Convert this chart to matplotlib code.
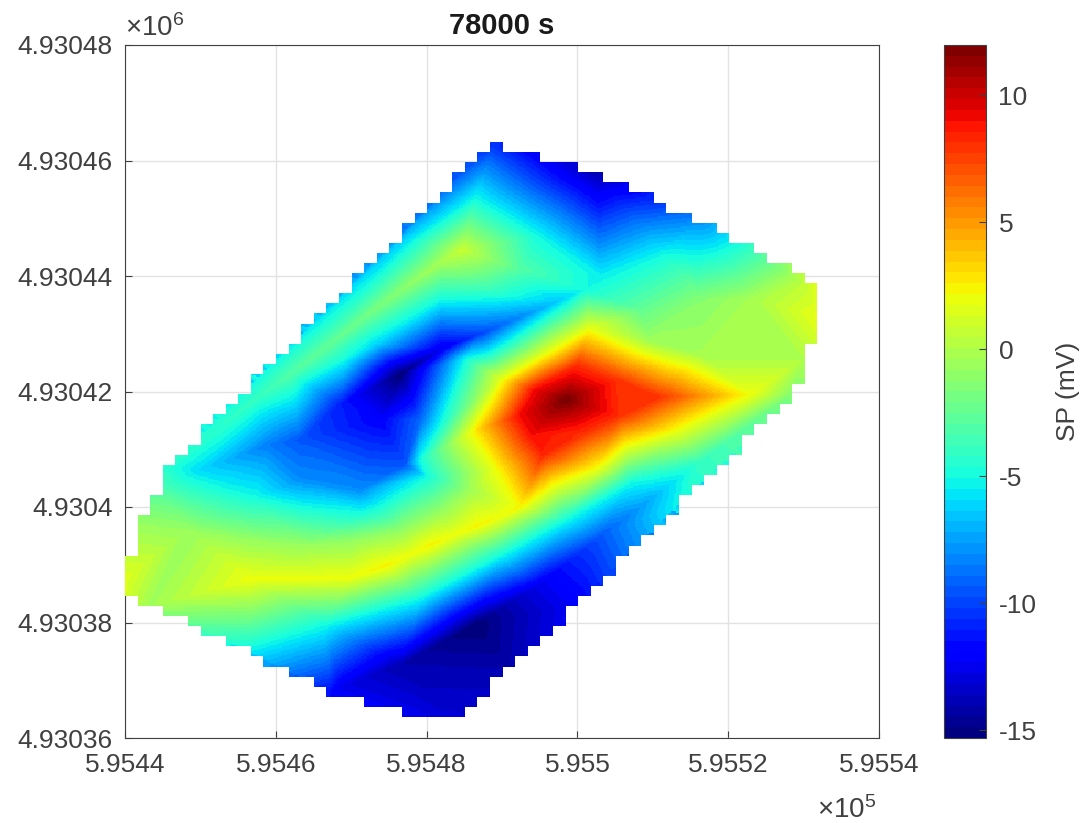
import numpy as np
import matplotlib
matplotlib.use('Agg')
import matplotlib.pyplot as plt
import matplotlib.tri as mtri

plt.rcParams['font.family'] = ['Liberation Sans', 'DejaVu Sans']
plt.rcParams['mathtext.default'] = 'regular'

X0 = 595440.0
Y0 = 4930360.0
INK = '#404040'

# outer measurement positions (metres from X0, Y0) and SP values (mV)
hull_x = [0, 0, 2.5, 4.2, 5.8, 18.2, 36.7, 46.7, 48.9, 62.5, 76.3, 89.9, 92.2, 92.2, 89.9, 88.5,
          73.6, 60.1, 51.1, 43.1, 38.5, 27.2, 16.6, 3.3]
hull_y = [25.6, 27.7, 37.7, 42.9, 46.8, 63, 86.4, 100.6, 102.7, 97.7, 89.4, 78.6, 78.1, 72.7, 65.5, 59.4,
          40.7, 23.4, 11.9, 3.1, 3.9, 8, 14.9, 22.9]
hull_v = [1.6, 1.6, -1, -3, -4.5, -5, -6.5, -10, -10.5, -14, -8, 0.5, 2, 2, 0, -1.5,
          -5, -12, -14, -13, -12.5, -11.5, -5.5, -0.5]

# hot core and its rim
hot_x = [58.4, 61.4, 50, 46, 52.4, 82.9, 72.1, 62.6, 72.8, 49.2, 55.7]
hot_y = [58.5, 70.6, 62, 53, 40, 59.4, 65.1, 46.6, 53, 46.4, 66.3]
hot_v = [12, 2, 2, 2.2, 2.4, 2, 2, 2, 2, 2.1, 2]

# ring half way up the hot core
ring_x = [70.65, 65.25, 59.9, 57, 54.2, 52.2, 53.8, 55.4, 60.5, 65.6]
ring_y = [58.95, 61.8, 64.55, 62.4, 60.25, 55.75, 52.45, 49.25, 52.55, 55.75]
ring_v = [8, 8, 8, 8.5, 9, 9, 9, 8.5, 8, 8]

# lower yellow ridge
low_x = [29.8, 16.6, 34.7, 37.8, 40.5, 43.5, 46.7, 50]
low_y = [27.7, 27.4, 29.8, 31.7, 33.4, 35, 36.7, 38.4]
low_v = [2, 2, 2.4, 2, 2.4, 2, 2.4, 2.1]

# green band above the lower ridge
band_x = [45.8, 41.8, 36.5, 29.8, 23.9, 16.6, 8.6]
band_y = [42.9, 39.5, 36, 34.3, 33.4, 34.3, 36]
band_v = [-0.5, -1, -1, -1, -0.8, -0.8, -0.8]

# cyan contour below the lower ridge
cont_x = [49.7, 58.4, 67, 39.1, 26.5]
cont_y = [31.5, 37.7, 44.2, 24.2, 19.6]
cont_v = [-5, -5, -5, -5, -5]

# lower blue trough
trough_x = [46.4, 36.5, 28.5, 55, 63, 70, 76.3]
trough_y = [19.6, 12.6, 8.7, 26.5, 34.8, 41.7, 47.8]
trough_v = [-15.3, -14, -12.5, -12.5, -9.5, -7, -4]

# upper green ridge and the cyan fold beyond it
up_x = [17.2, 21.9, 26.8, 31.8, 36.7, 41.8, 44.7, 46.4, 61, 54.6, 63, 71.6, 52.4]
up_y = [58.5, 62.9, 67.7, 72.9, 77.6, 82.2, 84.5, 93.2, 77.6, 86.8, 80.2, 83.1, 81]
up_v = [-4, -3, -2.5, -2, -1.2, -0.3, 0.8, -5, -5, -5, -5.5, -4.8, -3]

# green fan on the right
fan_x = [76.3, 68.3, 82.9, 69.6, 76.3]
fan_y = [75.8, 74.1, 75.8, 68.9, 66.3]
fan_v = [-1.3, -2.5, -0.3, -0.7, -0.3]

# central blue low, its tongue and surrounding cyan contour
mid_x = [57, 47, 41.8, 36.5, 41.8, 49.7, 29.2, 28.5, 19.2, 9.9, 37.1, 31.2, 23.2, 17.2, 31.2, 40, 39.1, 41.8, 45.1,
         33.8, 23.2, 39.1, 33.2]
mid_y = [75.3, 69.8, 67.2, 62.9, 75.8, 76.7, 65.5, 57.7, 50.7, 46.4, 47.3, 42.9, 44.7, 41.7, 39, 45.2, 48.1, 54.2, 65.5,
         55.1, 51.6, 55, 68.1]
mid_v = [-6.5, -10, -12.5, -15.3, -5, -4.5, -5, -11, -8.5, -6, -9.5, -8, -8, -5, -5, -5, -5, -5, -5,
         -12, -9.5, -9, -6]

x_ticks = [595440, 595460, 595480, 595500, 595520, 595540]
x_labels = ['5.9544', '5.9546', '5.9548', '5.955', '5.9552', '5.9554']
y_ticks = [4930360, 4930380, 4930400, 4930420, 4930440, 4930460, 4930480]
y_labels = ['4.93036', '4.93038', '4.9304', '4.93042', '4.93044', '4.93046', '4.93048']
cb_ticks = [-15, -10, -5, 0, 5, 10]
cb_labels = ['-15', '-10', '-5', '0', '5', '10']

px = np.array(hull_x + hot_x + ring_x + low_x + band_x + cont_x + trough_x + up_x + fan_x + mid_x, float)
py = np.array(hull_y + hot_y + ring_y + low_y + band_y + cont_y + trough_y + up_y + fan_y + mid_y, float)
pv = np.array(hull_v + hot_v + ring_v + low_v + band_v + cont_v + trough_v + up_v + fan_v + mid_v, float)

tri = mtri.Triangulation(px, py)
interp = mtri.LinearTriInterpolator(tri, pv)
finder = tri.get_trifinder()

# coarse grid gives the staircase outline; fine grid gives the smooth shading
dx, dy = 1.668, 1.744
ox, oy = 0.0, 3.64
nx, ny = 56, 57
cx = ox + (np.arange(nx) + 0.5) * dx
cy = oy + (np.arange(ny) + 0.5) * dy
CX, CY = np.meshgrid(cx, cy)
inside = finder(CX, CY) >= 0

sub = 8
fx = ox + (np.arange(nx * sub) + 0.5) * dx / sub
fy = oy + (np.arange(ny * sub) + 0.5) * dy / sub
FX, FY = np.meshgrid(fx, fy)
Z = interp(FX, FY)
valid = ~np.ma.getmaskarray(Z)
Zd = np.ma.getdata(Z).copy()
show = np.kron(inside, np.ones((sub, sub), bool))
miss = np.argwhere(show & ~valid)
vi = np.argwhere(valid)
for r, c in miss:
    k = np.argmin((vi[:, 0] - r) ** 2 + (vi[:, 1] - c) ** 2)
    Zd[r, c] = Zd[vi[k, 0], vi[k, 1]]
Zm = np.ma.array(Zd, mask=~show)

W, H = 1084, 823
fig = plt.figure(figsize=(W / 100, H / 100), dpi=100)
ax = fig.add_axes([125 / W, 1 - 738 / H, 754 / W, 693 / H])
cmap = plt.get_cmap('jet', 64)
vmin, vmax = -15.3, 11.97
im = ax.imshow(Zm, origin='lower', cmap=cmap, vmin=vmin, vmax=vmax, aspect='auto',
               interpolation='nearest', zorder=3,
               extent=(X0 + ox, X0 + ox + nx * dx, Y0 + oy, Y0 + oy + ny * dy))
ax.set_xlim(595440, 595540)
ax.set_ylim(4930360, 4930480)
ax.set_xticks(x_ticks, x_labels)
ax.set_yticks(y_ticks, y_labels)
ax.grid(True, color='#e2e2e2', lw=1)
ax.set_axisbelow(True)
ax.tick_params(direction='in', length=5, width=0.8, color=INK, labelcolor=INK, labelsize=19)
ax.tick_params(axis='x', pad=11)
ax.tick_params(axis='y', pad=9)
for s in ax.spines.values():
    s.set_color(INK)
    s.set_linewidth(0.8)
ax.set_title('78000 s', fontsize=21, fontweight='bold', color='#1a1a1a', pad=8)

fig.text(125 / W, 1 - 28 / H, '×10$^{6}$', fontsize=20, color=INK, ha='left', va='center')
fig.text(817 / W, 1 - 810 / H, '×10$^{5}$', fontsize=20, color=INK, ha='left', va='center')

cax = fig.add_axes([944 / W, 1 - 738 / H, 42 / W, 693 / H])
cb = fig.colorbar(im, cax=cax)
cb.set_ticks(cb_ticks, labels=cb_labels)
cax.tick_params(direction='in', length=5, width=0.8, color=INK, labelcolor=INK, labelsize=19, pad=9, right=True)
cb.outline.set_edgecolor(INK)
cb.outline.set_linewidth(0.8)
cb.set_label('SP (mV)', fontsize=19, color=INK)
cax.yaxis.set_label_coords((1056 - 944) / 42, 0.5)

fig.savefig('out.png', dpi=100)
